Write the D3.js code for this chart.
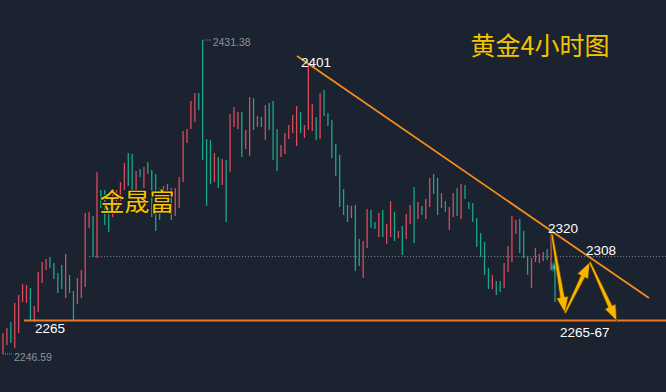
<!DOCTYPE html>
<html><head><meta charset="utf-8">
<script src="https://cdn.jsdelivr.net/npm/d3@7"></script>
<style>html,body{margin:0;padding:0;background:#1b2230;overflow:hidden}</style>
</head><body><div id="chart"></div>
<script>
// ---- data ----
const opens = [2246.6,2251.9,2265.4,2250.1,2258.9,2277.2,2276.6,2285.4,2265.4,2271.3,
2288.4,2296.0,2303.7,2300.1,2294.3,2299.0,2279.5,2293.1,2283.7,2276.0,
2279.5,2286.0,2320.7,2327.8,2303.1,2343.1,2343.1,2332.5,2327.2,2331.3,
2336.6,2343.1,2364.9,2364.3,2338.4,2355.5,2344.3,2359.6,2354.9,2352.5,
2344.3,2335.5,2332.5,2344.3,2327.8,2332.5,2347.8,2370.8,2379.0,2383.1,
2400.2,2431.38,2373.1,2372.5,2347.8,2362.5,2346.1,2360.8,2353.7,2380.2,
2379.0,2389.0,2367.2,2363.1,2397.2,2380.2,2386.1,2372.5,2394.3,2395.5,
2379.0,2362.5,2364.3,2373.1,2376.6,2369.0,2389.0,2373.7,2378.4,2377.8,
2386.1,2373.1,2402.0,2388.4,2384.3,2370.2,2363.7,2343.7,2334.3,2326.6,
2334.3,2314.3,2291.3,2309.0,2331.3,2324.3,2315.4,2331.3,2311.3,2315.4,
2330.2,2314.8,2321.9,2314.3,2323.1,2344.9,2326.0,2333.7,2326.0,2333.1,
2352.5,2350.2,2332.5,2336.6,2319.6,2327.2,2344.3,2326.0,2346.1,2336.0,
2335.5,2326.6,2317.8,2312.5,2297.2,2284.8,2289.6,2289.6,2285.4,2294.8,
2300.7,2317.2,2326.0,2319.0,2304.3,2285.4,2300.7,2300.1,2301.3,2308.4,
2296.0,2303.7];
const closes = [2258.9,2261.9,2253.1,2276.6,2281.3,2287.8,2287.2,2266.6,2274.8,2294.8,
2300.7,2302.5,2297.2,2290.7,2282.5,2284.8,2305.4,2282.5,2266.6,2291.3,
2296.0,2329.6,2330.2,2303.7,2353.7,2332.5,2322.5,2318.4,2341.3,2343.1,
2347.8,2359.0,2345.5,2342.5,2354.3,2350.8,2356.6,2352.5,2327.2,2319.0,
2325.5,2345.5,2346.6,2325.5,2344.3,2350.8,2377.8,2379.0,2395.5,2400.2,
2390.2,2360.8,2333.7,2346.6,2364.9,2344.3,2361.3,2324.3,2387.8,2392.0,
2389.0,2362.5,2378.4,2397.8,2378.4,2386.7,2380.2,2393.1,2378.4,2360.8,
2354.3,2369.6,2376.6,2381.4,2387.2,2392.5,2376.6,2381.4,2417.8,2393.7,
2372.5,2400.2,2386.7,2380.8,2361.9,2351.3,2333.1,2328.4,2324.3,2333.7,
2295.4,2298.4,2313.1,2331.9,2320.7,2320.2,2329.6,2315.4,2323.1,2336.6,
2313.1,2319.0,2304.8,2329.0,2334.3,2311.9,2336.0,2328.4,2337.8,2350.2,
2340.8,2328.4,2341.3,2330.2,2333.1,2341.3,2327.8,2346.6,2337.8,2331.9,
2324.3,2309.6,2303.7,2293.1,2284.8,2293.1,2281.3,2283.1,2300.1,2310.2,
2327.8,2325.5,2306.0,2303.1,2293.1,2303.1,2309.0,2305.4,2306.6,2301.9,
2319.0,2277.2];
const priceHigh = 2431.38, priceLow = 2246.59;
const supportLevel = 2266.3;          // orange horizontal line (labelled 2265)
const refLevel = 2303.9;              // dotted price line
const refStart = 22;                  // candle index where the dotted line starts
const trendPts = [[75.1, 2422.0], [165.0, 2279.5]];
const arrowPts = [[140.2, 2317.2], [143.55, 2270.7], [149.9, 2300.7], [156.8, 2266.0]];
const lastIdx = opens.length - 1;

// ---- drawing ----
const W = 666, H = 392;
const svg = d3.select("#chart").append("svg").attr("width", W).attr("height", H)
  .style("display", "block").style("background", "#1b2230");

const x = d3.scaleLinear().domain([0, lastIdx]).range([3, 555]);
const y = d3.scaleLinear().domain([priceLow, priceHigh]).range([354, 40]);

const defs = svg.append("defs");
const rg = defs.append("radialGradient").attr("id", "glow");
rg.append("stop").attr("offset", "0%").attr("stop-color", "#5ff0d8").attr("stop-opacity", 1);
rg.append("stop").attr("offset", "45%").attr("stop-color", "#22b59a").attr("stop-opacity", 0.6);
rg.append("stop").attr("offset", "100%").attr("stop-color", "#22b59a").attr("stop-opacity", 0);

// dotted reference line
svg.append("line")
  .attr("x1", x(refStart)).attr("x2", W)
  .attr("y1", y(refLevel)).attr("y2", y(refLevel))
  .attr("stroke", "#8a909c").attr("stroke-width", 1).attr("stroke-dasharray", "1,2");

// candles
const idx = d3.range(opens.length);
svg.append("g").selectAll("line").data(idx).join("line")
  .attr("x1", i => x(i)).attr("x2", i => x(i))
  .attr("y1", i => y(Math.max(opens[i], closes[i])))
  .attr("y2", i => y(Math.min(opens[i], closes[i])))
  .attr("stroke", i => closes[i] >= opens[i] ? "#dc4a5c" : "#19a88b")
  .attr("stroke-width", 1.3);

// high / low markers
svg.append("line").attr("x1", x(opens.indexOf(priceHigh)) + 1).attr("x2", x(opens.indexOf(priceHigh)) + 9)
  .attr("y1", y(priceHigh)).attr("y2", y(priceHigh))
  .attr("stroke", "#8a909c").attr("stroke-dasharray", "1,1");
svg.append("text").attr("x", x(opens.indexOf(priceHigh)) + 10).attr("y", y(priceHigh) + 6)
  .attr("font-family", "Liberation Sans, Arial, sans-serif").attr("font-size", 10.5)
  .attr("fill", "#8d929d").text(priceHigh.toFixed(2));
svg.append("line").attr("x1", x(0)).attr("x2", x(0) + 9)
  .attr("y1", y(priceLow)).attr("y2", y(priceLow))
  .attr("stroke", "#8a909c").attr("stroke-dasharray", "1,1");
svg.append("text").attr("x", x(0) + 11).attr("y", y(priceLow) + 7)
  .attr("font-family", "Liberation Sans, Arial, sans-serif").attr("font-size", 10.5)
  .attr("fill", "#8d929d").text(priceLow.toFixed(2));

// support line
svg.append("line").attr("x1", 24).attr("x2", W)
  .attr("y1", y(supportLevel)).attr("y2", y(supportLevel))
  .attr("stroke", "#ee7628").attr("stroke-width", 2);

// trend line
svg.append("line")
  .attr("x1", x(trendPts[0][0])).attr("y1", y(trendPts[0][1]))
  .attr("x2", x(trendPts[1][0])).attr("y2", y(trendPts[1][1]))
  .attr("stroke", "#f68d1e").attr("stroke-width", 1.8);

// current price glow
svg.append("circle").attr("cx", x(lastIdx)).attr("cy", 267).attr("r", 6).attr("fill", "url(#glow)");

// arrows
function arrowPoly(x1, y1, x2, y2) {
  const dx = x2 - x1, dy = y2 - y1, L = Math.hypot(dx, dy);
  const ux = dx / L, uy = dy / L, nx = -uy, ny = ux;
  const hl = 16, hw = 6, s0 = 1.0, s1 = 2.3;
  const bx = x2 - ux * hl, by = y2 - uy * hl;
  const p = [
    [x1 + nx * s0, y1 + ny * s0], [bx + nx * s1, by + ny * s1], [bx + nx * hw, by + ny * hw],
    [x2, y2],
    [bx - nx * hw, by - ny * hw], [bx - nx * s1, by - ny * s1], [x1 - nx * s0, y1 - ny * s0]
  ];
  return p.map(q => q.join(",")).join(" ");
}
const ag = svg.append("g");
for (let k = 0; k < arrowPts.length - 1; k++) {
  const a = arrowPts[k], b = arrowPts[k + 1];
  ag.append("polygon").attr("points", arrowPoly(x(a[0]), y(a[1]), x(b[0]), y(b[1])))
    .attr("fill", "#f7b500").attr("stroke", "#4a3500").attr("stroke-width", 0.7);
}

// white annotation labels
const lab = (t, px, py) => svg.append("text").attr("x", px).attr("y", py)
  .attr("font-family", "Liberation Sans, Arial, sans-serif").attr("font-size", 13.5)
  .attr("fill", "#ffffff").text(t);
lab("2401", 301, 67);
lab("2320", 548, 233);
lab("2308", 586, 255);
lab("2265", 35, 333);
lab("2265-67", 560, 336.5);

// titles
svg.append("text").attr("x", 470.5).attr("y", 55)
  .attr("font-family", "Noto Sans CJK SC, sans-serif").attr("font-size", 25)
  .attr("fill", "#f5c400").text("黄金4小时图");
svg.append("text").attr("x", 99.5).attr("y", 210.5)
  .attr("font-family", "Noto Sans CJK SC, sans-serif").attr("font-size", 25)
  .attr("fill", "#f5c400").attr("stroke", "#1a1a1a").attr("stroke-width", 2)
  .attr("paint-order", "stroke").text("金晟富");
</script>
</body></html>
